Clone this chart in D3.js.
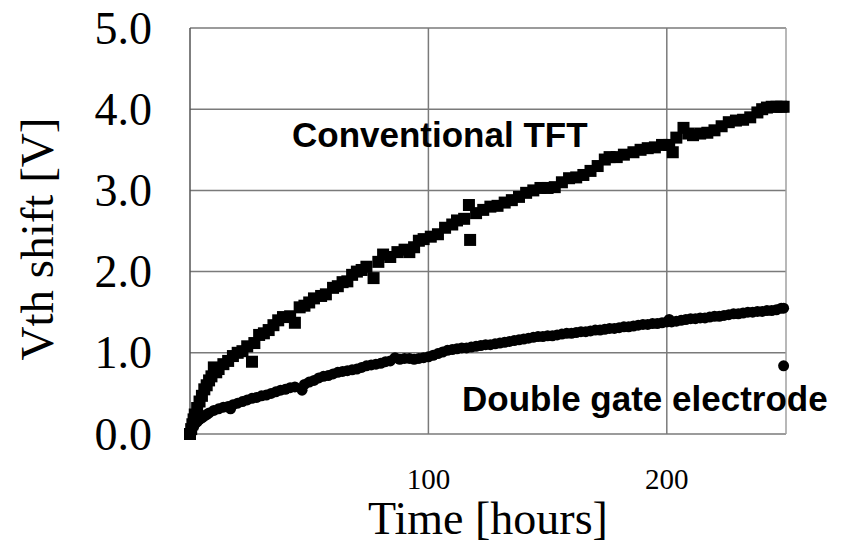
<!DOCTYPE html>
<html>
<head>
<meta charset="utf-8">
<script src="https://cdn.jsdelivr.net/npm/d3@7"></script>
<style>
  html, body { margin: 0; padding: 0; background: #fff; }
  svg { display: block; }
</style>
</head>
<body>
<svg id="chart" width="851" height="547"></svg>
<script>
// Vth shift under bias stress: conventional TFT vs double gate electrode
const convHours = [0,0.5,1,1.5,2,3,4,5,6,7,8,9,10,11,12,14,16,18,20,22,24,26,27,29,31,33,35,37,39,42,44,46,48,50,52,55,57,60,62,64,66,68,70,72,74,77,79,81,84,87,90,92,94,96,98,101,104,107,110,112,115,117,117.5,120,123,126,129,132,135,138,141,144,147,150,153,156,159,162,165,168,171,174,176,179,182,186,189,192,195,198,201,202.5,204,207,209,211,214,217,220,223,226,229,232,235,238,240,242,244,246,248,249];
const convShift = [0.00,0.06,0.12,0.18,0.24,0.32,0.40,0.47,0.55,0.60,0.66,0.71,0.82,0.76,0.80,0.86,0.90,0.96,1.00,1.02,1.08,0.89,1.12,1.22,1.24,1.28,1.34,1.40,1.44,1.45,1.37,1.56,1.58,1.62,1.67,1.70,1.72,1.80,1.82,1.87,1.88,1.96,2.00,2.02,2.06,1.92,2.12,2.21,2.18,2.24,2.27,2.24,2.30,2.38,2.40,2.43,2.46,2.54,2.58,2.63,2.65,2.82,2.39,2.72,2.76,2.80,2.81,2.85,2.88,2.92,2.97,3.00,3.03,3.03,3.04,3.10,3.15,3.16,3.19,3.24,3.30,3.38,3.41,3.41,3.44,3.47,3.50,3.52,3.53,3.56,3.56,3.47,3.65,3.77,3.70,3.68,3.70,3.71,3.74,3.79,3.84,3.86,3.87,3.90,3.96,4.00,4.02,4.03,4.03,4.03,4.03];

const dgHours = [0,0.5,1,1.5,2,3,4,5,6,7,8,10,12,14,16,17,18,20,22,24,26,28,30,32,34,36,38,40,42,44,47,48,50,52,54,56,58,60,62,64,66,68,70,72,74,76,78,80,82,84,86,88,90,92,94,96,98,100,102,104,106,108,110,112,114,116,118,120,122,124,126,128,130,132,134,136,138,140,142,144,146,148,150,152,154,156,158,160,162,164,166,168,170,172,174,176,178,180,182,184,186,188,190,192,194,196,198,200,201,202,204,206,208,210,212,214,216,218,220,222,224,226,228,230,232,234,236,238,240,242,244,246,248,249,249];
const dgShift = [0.00,0.04,0.07,0.10,0.12,0.15,0.18,0.20,0.22,0.24,0.26,0.29,0.31,0.33,0.34,0.31,0.36,0.38,0.40,0.42,0.44,0.45,0.47,0.48,0.50,0.52,0.54,0.55,0.57,0.58,0.54,0.61,0.64,0.66,0.69,0.71,0.72,0.74,0.76,0.77,0.78,0.79,0.80,0.82,0.84,0.85,0.86,0.87,0.89,0.90,0.94,0.92,0.93,0.93,0.92,0.93,0.94,0.95,0.97,0.99,1.01,1.03,1.04,1.05,1.06,1.06,1.07,1.08,1.09,1.10,1.10,1.11,1.12,1.13,1.14,1.15,1.16,1.17,1.18,1.19,1.20,1.20,1.21,1.21,1.22,1.23,1.24,1.24,1.25,1.26,1.26,1.27,1.28,1.28,1.29,1.30,1.30,1.31,1.32,1.32,1.33,1.34,1.35,1.35,1.36,1.36,1.37,1.38,1.41,1.38,1.39,1.40,1.41,1.42,1.42,1.43,1.43,1.44,1.45,1.45,1.46,1.47,1.48,1.48,1.49,1.50,1.50,1.51,1.51,1.52,1.52,1.53,1.55,1.55,0.84];

const yTicks = [0, 1, 2, 3, 4, 5];
const xTicks = [100, 200];
const xGrid = [100, 200, 250];

const svg = d3.select("#chart");
const x = d3.scaleLinear().domain([0, 250]).range([190, 786]);
const y = d3.scaleLinear().domain([0, 5]).range([434, 28]);

const gridColor = "#7a7a7a";

// horizontal gridlines
svg.append("g").selectAll("line").data(yTicks).join("line")
  .attr("x1", x(0)).attr("x2", x(250))
  .attr("y1", d => y(d)).attr("y2", d => y(d))
  .attr("stroke", gridColor).attr("stroke-width", 1.5);

// vertical gridlines and frame edges
svg.append("g").selectAll("line").data(xGrid).join("line")
  .attr("x1", d => x(d)).attr("x2", d => x(d))
  .attr("y1", y(0)).attr("y2", y(5))
  .attr("stroke", d => d === 250 ? "#a0a0a0" : gridColor).attr("stroke-width", 1.5);

// y axis line
svg.append("line")
  .attr("x1", x(0)).attr("x2", x(0)).attr("y1", y(0)).attr("y2", y(5))
  .attr("stroke", "#555").attr("stroke-width", 1.5);

// y tick labels
svg.append("g").selectAll("text").data(yTicks).join("text")
  .attr("x", 152).attr("y", d => y(d))
  .attr("text-anchor", "end").attr("dominant-baseline", "central")
  .attr("font-family", "'Liberation Serif', 'Times New Roman', serif")
  .attr("font-size", 46).attr("fill", "#000")
  .text(d => d3.format(".1f")(d));

// x tick labels
svg.append("g").selectAll("text").data(xTicks).join("text")
  .attr("x", d => x(d)).attr("y", 489)
  .attr("text-anchor", "middle")
  .attr("font-family", "'Liberation Serif', 'Times New Roman', serif")
  .attr("font-size", 29).attr("fill", "#000")
  .text(d => d);

// axis titles
svg.append("text")
  .attr("x", 488).attr("y", 534)
  .attr("text-anchor", "middle")
  .attr("font-family", "'Liberation Serif', 'Times New Roman', serif")
  .attr("font-size", 46).attr("fill", "#000")
  .text("Time [hours]");

svg.append("text")
  .attr("transform", "translate(53,239) rotate(-90)")
  .attr("text-anchor", "middle")
  .attr("font-family", "'Liberation Serif', 'Times New Roman', serif")
  .attr("font-size", 47).attr("fill", "#000")
  .text("Vth shift [V]");

// conventional TFT: square markers
const conv = convHours.map((h, i) => ({ h, v: convShift[i] }));
svg.append("g").selectAll("rect").data(conv).join("rect")
  .attr("x", d => x(d.h) - 6).attr("y", d => y(d.v) - 6)
  .attr("width", 12).attr("height", 12)
  .attr("fill", "#000");

// double gate electrode: round markers
const dg = dgHours.map((h, i) => ({ h, v: dgShift[i] }));
svg.append("g").selectAll("circle").data(dg).join("circle")
  .attr("cx", d => x(d.h)).attr("cy", d => y(d.v))
  .attr("r", 5.5).attr("fill", "#000");

// series labels
svg.append("text")
  .attr("x", 292).attr("y", 147)
  .attr("font-family", "'Liberation Sans', Arial, sans-serif")
  .attr("font-weight", "bold").attr("font-size", 35).attr("fill", "#000")
  .text("Conventional TFT");

svg.append("text")
  .attr("x", 462).attr("y", 411)
  .attr("font-family", "'Liberation Sans', Arial, sans-serif")
  .attr("font-weight", "bold").attr("font-size", 35).attr("fill", "#000")
  .text("Double gate electrode");
</script>
</body>
</html>
